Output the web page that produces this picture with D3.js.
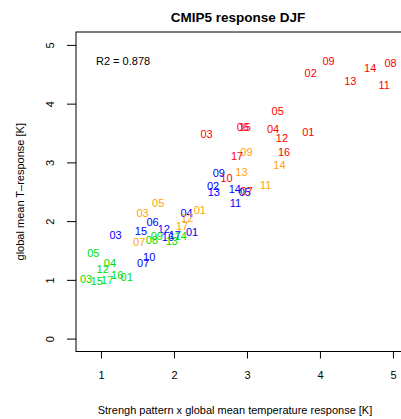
<!DOCTYPE html>
<html><head><meta charset="utf-8">
<script src="https://cdn.jsdelivr.net/npm/d3@7"></script>
<style>body{margin:0;background:#fff}svg{display:block}text{font-family:"Liberation Sans",Arial,Helvetica,sans-serif}</style>
</head><body>
<svg id="c" width="401" height="419"></svg>
<script>
const xTicks = [1,2,3,4,5];
const yTicks = [0,1,2,3,4,5];
const redLabels = ["01","02","03","04","05","06","07","08","09","10","11","12","13","14","15","16","17"];
const redX = [3.841,3.873,2.446,3.357,3.421,2.943,2.997,4.967,4.119,2.720,4.881,3.480,4.416,4.689,2.970,3.508,2.865];
const redY = [3.523,4.518,3.479,3.564,3.876,3.603,2.513,4.688,4.727,2.729,4.324,3.421,4.392,4.608,3.603,3.182,3.109];
const orangeLabels = ["01","03","05","07","09","11","12","13","14","17"];
const orangeX = [2.354,1.570,1.784,1.524,2.993,3.257,2.181,2.925,3.445,2.112];
const orangeY = [2.189,2.133,2.303,1.639,3.182,2.615,2.048,2.831,2.951,1.922];
const blueLabels = ["01","02","03","04","05","06","07","09","10","11","12","13","14","15","16","17"];
const blueX = [2.249,2.536,1.201,2.172,2.970,1.707,1.579,2.614,1.661,2.843,1.862,2.546,2.833,1.547,1.917,2.012];
const blueY = [1.819,2.598,1.763,2.143,2.501,1.990,1.291,2.814,1.394,2.313,1.860,2.491,2.542,1.836,1.729,1.763];
const greenLabels = ["01","03","04","05","08","09","12","13","14","15","16","17"];
const greenX = [1.352,0.795,1.123,0.895,1.698,1.766,1.023,1.971,2.094,0.941,1.223,1.086];
const greenY = [1.053,1.014,1.291,1.462,1.678,1.746,1.179,1.661,1.746,0.980,1.077,0.997];

const svg = d3.select("#c");
const L=76, R=401, T=32, B=351.5;
const x = d3.scaleLinear().domain([0.658,5.0966]).range([L,R-1]);
const y = d3.scaleLinear().domain([-0.22,5.22]).range([B,T]);

const xa = svg.append("g").attr("transform",`translate(0,${B})`)
  .call(d3.axisBottom(x).tickValues(xTicks).tickFormat(d3.format("d")).tickSize(7).tickPadding(13));
const ya = svg.append("g").attr("transform",`translate(${L},0)`)
  .call(d3.axisLeft(y).tickValues(yTicks).tickFormat(d3.format("d")).tickSize(9).tickPadding(0));
[xa,ya].forEach(a=>{a.select(".domain").remove();a.selectAll("line").attr("stroke","#000");a.selectAll("text").attr("font-size",11).attr("fill","#000").style("font-family","'Liberation Sans',Arial,sans-serif");});
ya.selectAll(".tick text").attr("text-anchor","middle").attr("x",0).attr("dy",0)
  .attr("transform","translate(-26,0) rotate(-90)").attr("dominant-baseline","central");

svg.append("rect").attr("x",L).attr("y",T).attr("width",R-L+2).attr("height",B-T)
  .attr("fill","none").attr("stroke","#000").attr("stroke-width",1);

svg.append("text").attr("x",238).attr("y",22).attr("text-anchor","middle")
  .attr("font-size",13.5).attr("font-weight","bold").text("CMIP5 response DJF");
svg.append("text").attr("x",235).attr("y",414).attr("text-anchor","middle")
  .attr("font-size",11).text("Strengh pattern x global mean temperature response [K]");
svg.append("text").attr("transform",`translate(24,${(T+B)/2}) rotate(-90)`).attr("text-anchor","middle")
  .attr("font-size",11).text("global mean T\u2013response [K]");
svg.append("text").attr("x",96).attr("y",65).attr("font-size",11).text("R2 = 0.878");

const groups = [
  [blueLabels,blueX,blueY,"#0000FF"],
  [greenLabels,greenX,greenY,"#00E000"],
  [orangeLabels,orangeX,orangeY,"#FFA500"],
  [redLabels,redX,redY,"#FF0000"]
];
const pts = svg.append("g");
groups.forEach(([lab,xs,ys,col])=>{
  pts.selectAll(null).data(lab.map((l,i)=>({l,x:xs[i],y:ys[i]}))).enter().append("text")
    .attr("x",d=>x(d.x)).attr("y",d=>y(d.y)).attr("dy","0.36em").attr("text-anchor","middle")
    .attr("font-size",11).attr("fill",col).text(d=>d.l);
});
</script>
</body></html>
